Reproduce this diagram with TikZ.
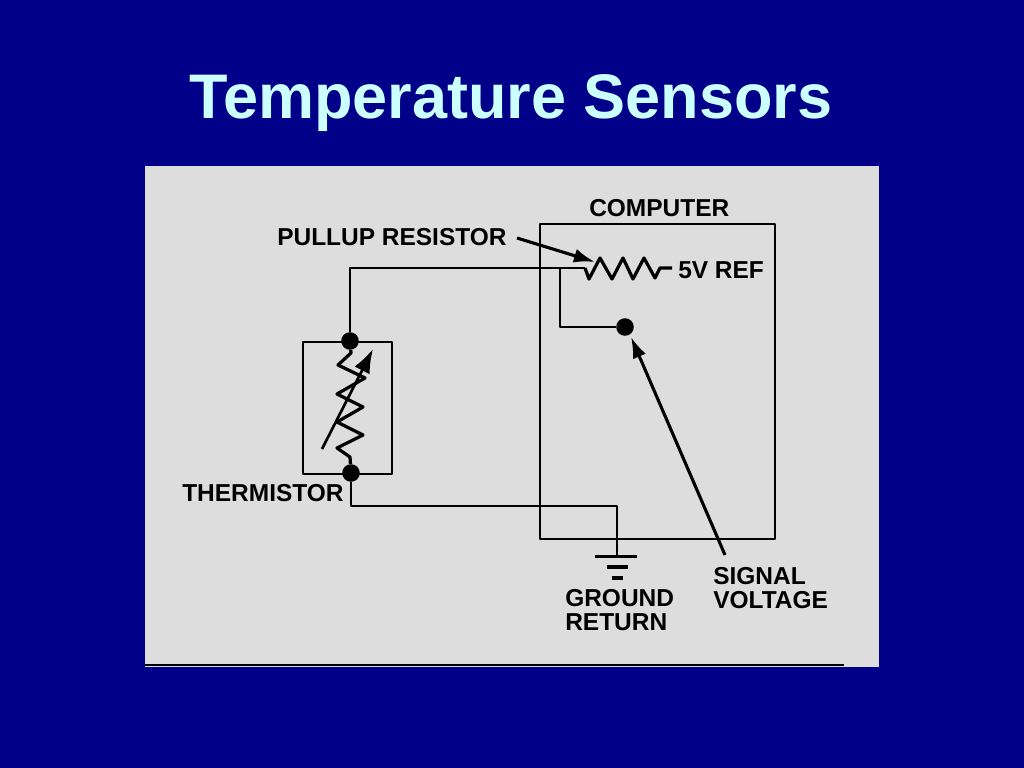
\documentclass[tikz,border=0pt]{standalone}
\usepackage{fontspec}
\setmainfont{Liberation Sans}
\usetikzlibrary{arrows.meta}
\definecolor{slideblue}{RGB}{0,0,136}
\definecolor{panelgray}{RGB}{221,221,221}
\definecolor{titlecyan}{RGB}{204,255,255}
\tikzset{
wire/.style={black, line width=2.1pt, line join=round},
zigzag/.style={wire, line width=2.3pt},
pointer/.style={black, line width=2.2pt, -{Latex[length=15pt,width=10pt]}},
label/.style={anchor=west, inner sep=0pt, align=left, text=black, font=\bfseries\fontsize{17.4}{17.4}\selectfont},
junction/.style={circle, fill=black, inner sep=0pt, minimum size=12.5pt}
}
\begin{document}
\begin{tikzpicture}[x=0.025cm, y=-0.025cm]
\useasboundingbox (0,0) rectangle (1024,768);
\fill[slideblue] (0,0) rectangle (1024,768);
\fill[panelgray] (145,166) rectangle (879,667);
\draw[black, line width=1.5pt] (145,665) -- (844,665);
\path
(511,103) node[name=title, text=titlecyan, font=\bfseries\fontsize{44.8}{50}\selectfont]{Temperature Sensors};
% computer and thermistor boxes
\draw[wire] (540,224) rectangle (775,539);
\draw[wire] (303,342) rectangle (392,474);
\path
(589,208) node[label, name=computer]{COMPUTER};
\path
(277,237) node[label, name=pullup]{PULLUP RESISTOR};
\path
(678,270) node[label, name=vref]{5V REF};
\path
(182,493) node[label, name=thermistor]{THERMISTOR};
\path
(565,610) node[label, name=ground]{GROUND\\RETURN};
\path
(713,588) node[label, name=signal]{SIGNAL\\VOLTAGE};
% junctions
\node[junction] (thtop) at (350,341) {};
\node[junction] (thbot) at (351,473) {};
\node[junction] (sense) at (625,327) {};
\coordinate (resin) at (585,268);
\coordinate (resout) at (672,268);
\coordinate (branch) at (560,268);
\coordinate (gnd) at (617,556);
\coordinate (pullupend) at (517,238);
\coordinate (pulluptip) at (595,262);
\coordinate (signalend) at (725,555);
\coordinate (signaltip) at (631,337);
% wires
\draw[wire] (thtop) |- (resin);
\draw[wire] (branch) |- (sense);
\draw[wire] (thbot) |- (gnd |- 0,506) -- (gnd);
% pullup resistor
\draw[zigzag] (resin) -- (589,279) -- (600,258) -- (612,279) -- (623,258) -- (633,279) -- (644,258) -- (655,278) -- (660,268) -- (resout);
% thermistor
\draw[zigzag] (thtop) -- (351,353) -- (338,365) -- (365,378) -- (337,394) -- (363,407) -- (337,422) -- (363,435) -- (337,448) -- (350,457) -- (thbot);
\draw[black, line width=1.9pt, -{Latex[length=17pt,width=12pt]}] (322,449) -- (373,349);
% ground symbol
\draw[zigzag] (595,556.5) -- (637,556.5);
\draw[zigzag] (607,567) -- (628,567);
\draw[zigzag] (612,578) -- (623,578);
% arrows
\draw[pointer] (pullupend) -- (pulluptip);
\draw[pointer] (signalend) -- (signaltip);
\end{tikzpicture}
\end{document}
